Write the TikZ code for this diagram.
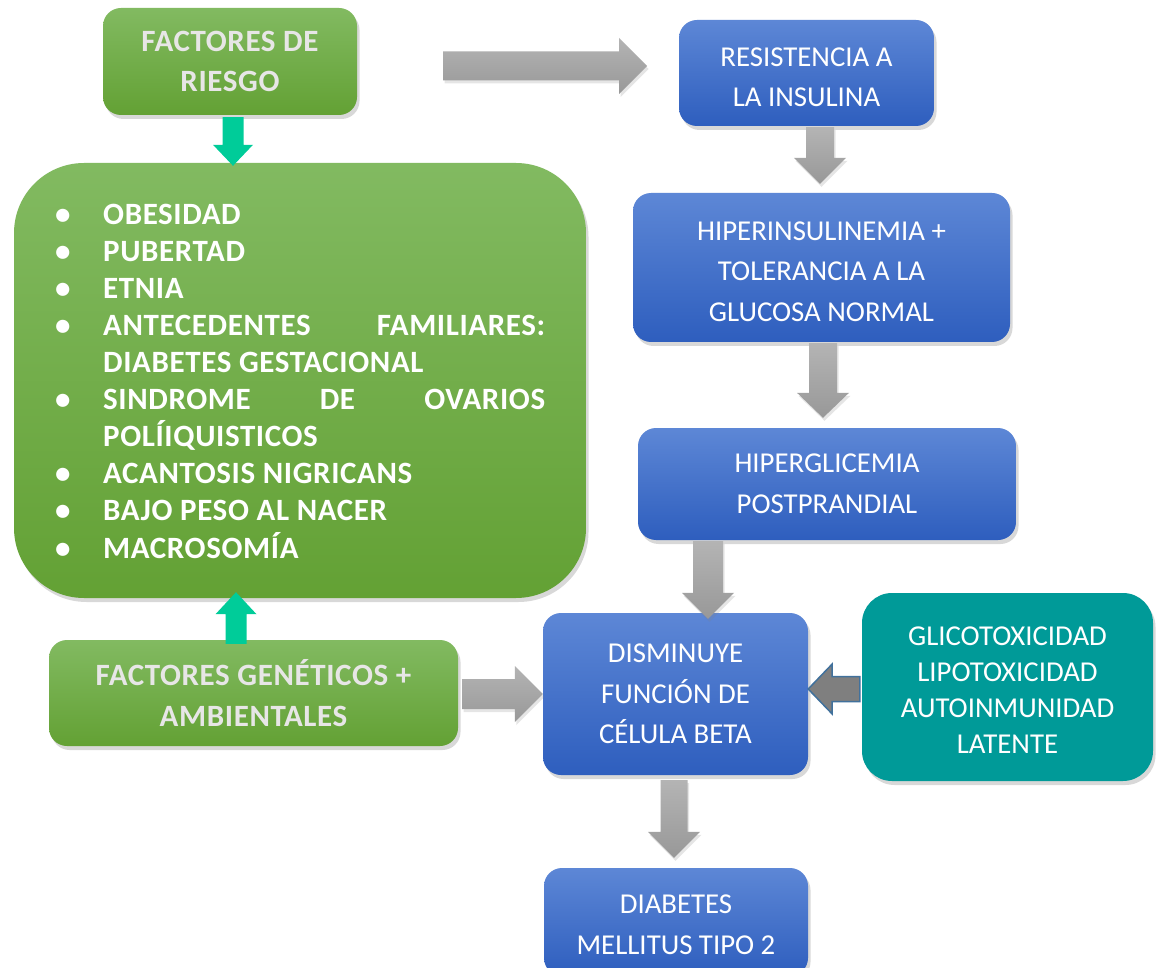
\documentclass[tikz,border=0pt]{standalone}
\usepackage{fontspec}
\setmainfont{Carlito}
\usetikzlibrary{calc,shadows}
\definecolor{greenT}{RGB}{130,186,97}
\definecolor{greenB}{RGB}{99,161,52}
\definecolor{blueT}{RGB}{93,135,214}
\definecolor{blueB}{RGB}{46,94,190}
\definecolor{tealbox}{RGB}{0,154,152}
\definecolor{tealarrow}{RGB}{0,204,153}
\definecolor{grayT}{RGB}{180,180,180}
\definecolor{grayB}{RGB}{152,152,152}
\definecolor{darkarrow}{RGB}{127,127,127}
\definecolor{arrowline}{RGB}{65,113,156}
\definecolor{headtxt}{RGB}{231,230,230}
\newcommand\blockarrow[6]{%
  \coordinate (hb) at ($(#3)!#6!(#2)$);
  \path[#1] ($(#2)!#4!90:(#3)$) -- ($(hb)!#4!90:(#3)$) -- ($(hb)!#5!90:(#3)$) -- (#3)
    -- ($(hb)!#5!-90:(#3)$) -- ($(hb)!#4!-90:(#3)$) -- ($(#2)!#4!-90:(#3)$) -- cycle;}
\tikzset{
  shadowed/.style={drop shadow={shadow xshift=2.5pt, shadow yshift=-4pt, opacity=0.3}},
  gbox/.style={rounded corners=18pt, top color=greenT, bottom color=greenB, shadowed,
    inner sep=0pt, align=center, text=headtxt,
    font=\bfseries\addfontfeature{LetterSpace=2}\fontsize{31}{40.5}\selectfont},
  bbox/.style={rounded corners=18pt, top color=blueT, bottom color=blueB, shadowed,
    inner sep=0pt, align=center, text=white, font=\fontsize{28.8}{40.5}\selectfont},
  tbox/.style={rounded corners=30pt, fill=tealbox, shadowed,
    inner sep=0pt, align=center, text=white, font=\fontsize{28.8}{36}\selectfont},
  grayblock/.style={top color=grayT, bottom color=grayB,
    drop shadow={shadow xshift=1.5pt, shadow yshift=-3pt, opacity=0.2}},
  tealblock/.style={fill=tealarrow},
  darkblock/.style={fill=darkarrow, draw=arrowline, line width=1.5pt, line join=miter},
  listtext/.style={inner sep=0pt, text=white,
    font=\bfseries\addfontfeature{LetterSpace=2}\fontsize{31}{37}\selectfont}
}
\begin{document}
\begin{tikzpicture}[x=1pt, y=-1pt]
\useasboundingbox (0,0) rectangle (1157,968);
\fill[white] (0,0) rectangle (1157,968);
\clip (0,0) rectangle (1157,968);
% boxes
\node[gbox, minimum width=254pt, minimum height=107pt] (fr) at (230,61.5) {FACTORES DE\\RIESGO};
\node[gbox, rounded corners=70pt, minimum width=572pt, minimum height=435pt] (list) at (300,380.5) {};
\node[listtext, anchor=west] (items) at (55,384) {%
\begin{tabular}{@{}p{48pt}@{}l@{}}
\textbullet & OBESIDAD\\
\textbullet & PUBERTAD\\
\textbullet & ETNIA\\
\textbullet & \hbox to 442pt{ANTECEDENTES\hfill FAMILIARES:}\\
 & DIABETES GESTACIONAL\\
\textbullet & \hbox to 442pt{SINDROME\hfill DE\hfill OVARIOS}\\
 & POLÍIQUISTICOS\\
\textbullet & ACANTOSIS NIGRICANS\\
\textbullet & BAJO PESO AL NACER\\
\textbullet & MACROSOMÍA
\end{tabular}};
\node[gbox, minimum width=409pt, minimum height=106pt] (fga) at (253.5,693) {FACTORES GENÉTICOS +\\AMBIENTALES};
\node[bbox, minimum width=255pt, minimum height=106pt] (res) at (806.5,73) {\rule{0pt}{27pt}RESISTENCIA A\\LA INSULINA};
\node[bbox, minimum width=377pt, minimum height=149pt] (hip1) at (821.5,267.5) {\rule{0pt}{26.5pt}HIPERINSULINEMIA +\\TOLERANCIA A LA\\GLUCOSA NORMAL};
\node[bbox, minimum width=378pt, minimum height=112pt] (hip2) at (827,484) {HIPERGLICEMIA\\POSTPRANDIAL};
\node[bbox, minimum width=265pt, minimum height=162pt] (dism) at (675.5,694) {DISMINUYE\\FUNCIÓN DE\\CÉLULA BETA};
\node[tbox, minimum width=291pt, minimum height=188pt] (glic) at (1007.5,687) {\rule{0pt}{25pt}GLICOTOXICIDAD\\LIPOTOXICIDAD\\AUTOINMUNIDAD\\LATENTE};
\node[bbox, minimum width=264pt, minimum height=108pt] (dm) at (676,922) {\rule{0pt}{24.5pt}DIABETES\\MELLITUS TIPO 2};
% arrows
\coordinate (a1s) at (443,66);
\coordinate (a1e) at (647,66);
\blockarrow{grayblock}{a1s}{a1e}{14.5pt}{28pt}{28pt}
\coordinate (a2s) at ($(fr.south)+(3,2)$);
\coordinate (a2e) at ($(a2s |- list.north)+(0,3)$);
\blockarrow{tealblock}{a2s}{a2e}{10.5pt}{20pt}{21pt}
\coordinate (a3s) at ($(fga.north)+(-17.5,4)$);
\coordinate (a3e) at ($(a3s |- list.south)+(0,-6)$);
\blockarrow{tealblock}{a3s}{a3e}{10.5pt}{20.5pt}{22pt}
\coordinate (a4s) at ($(fga.east)+(4,1)$);
\coordinate (a4e) at (a4s -| dism.west);
\blockarrow{grayblock}{a4s}{a4e}{15pt}{28pt}{28pt}
\coordinate (a5s) at ($(res.south)+(13.5,1)$);
\coordinate (a5e) at ($(a5s |- hip1.north)+(0,-9)$);
\blockarrow{grayblock}{a5s}{a5e}{14pt}{26pt}{26pt}
\coordinate (a6s) at ($(hip1.south)+(1.5,1)$);
\coordinate (a6e) at ($(a6s |- hip2.north)+(0,-10)$);
\blockarrow{grayblock}{a6s}{a6e}{14pt}{26pt}{25pt}
\coordinate (a7s) at ($(hip2.south -| dism.north)+(32.5,1)$);
\coordinate (a7e) at ($(a7s |- dism.north)+(0,6)$);
\blockarrow{grayblock}{a7s}{a7e}{15pt}{26pt}{26pt}
\coordinate (a8s) at ($(dism.south)+(-1.5,5)$);
\coordinate (a8e) at ($(a8s |- dm.north)+(0,-10)$);
\blockarrow{grayblock}{a8s}{a8e}{13.5pt}{26pt}{26pt}
\coordinate (a9s) at ($(glic.west)+(-2,2)$);
\coordinate (a9e) at (a9s -| dism.east);
\blockarrow{darkblock}{a9s}{a9e}{12.5pt}{25pt}{24pt}
\end{tikzpicture}
\end{document}
